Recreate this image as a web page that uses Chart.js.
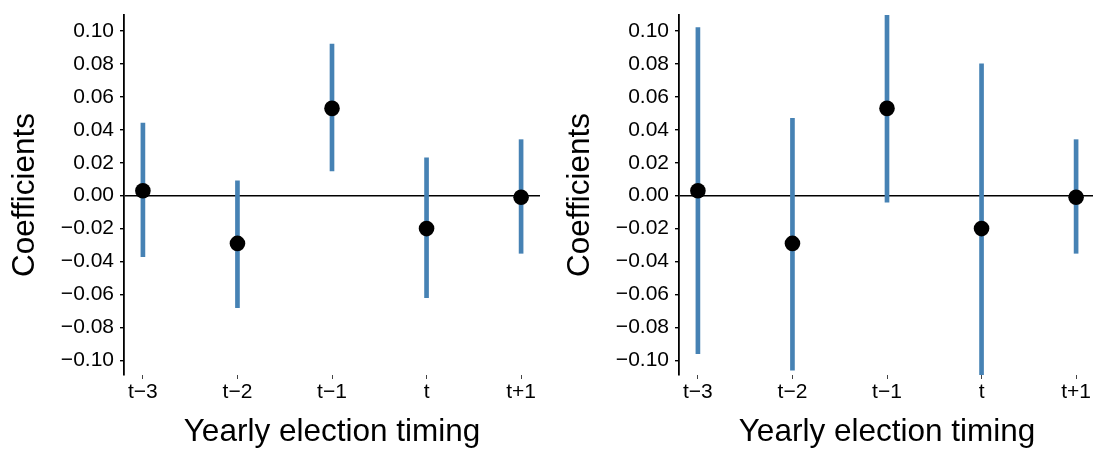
<!DOCTYPE html>
<html>
<head>
<meta charset="utf-8">
<script src="https://cdn.jsdelivr.net/npm/chart.js@4/dist/chart.umd.min.js"></script>
<style>
  html, body { margin: 0; padding: 0; background: #fff; overflow: hidden; }
  body { width: 1093px; height: 451px; position: relative; }
  .panel { position: absolute; top: 0; width: 555px; height: 451px; }
</style>
</head>
<body>
<div class="panel" style="left:0px"><canvas id="left" width="555" height="451"></canvas></div>
<div class="panel" style="left:555px"><canvas id="right" width="555" height="451"></canvas></div>
<script>
// ---- data ----
const categories = ['t\u22123', 't\u22122', 't\u22121', 't', 't+1'];
const yTickValues = [-0.10, -0.08, -0.06, -0.04, -0.02, 0.00, 0.02, 0.04, 0.06, 0.08, 0.10];
const yTickLabels = ['\u22120.10', '\u22120.08', '\u22120.06', '\u22120.04', '\u22120.02', '0.00', '0.02', '0.04', '0.06', '0.08', '0.10'];

const leftEstimate = [0.003, -0.029, 0.053, -0.020, -0.001];
const leftLower    = [-0.037, -0.068, 0.015, -0.062, -0.035];
const leftUpper    = [0.044, 0.009, 0.092, 0.023, 0.034];

const rightEstimate = [0.003, -0.029, 0.053, -0.020, -0.001];
const rightLower    = [-0.096, -0.106, -0.004, -0.112, -0.035];
const rightUpper    = [0.102, 0.047, 0.112, 0.080, 0.034];

const xTitle = 'Yearly election timing';
const yTitle = 'Coefficients';

// ---- chart ----
const FONT = "'Liberation Sans', Arial, Helvetica, sans-serif";

function makeChart(id, est, lo, hi) {
  const ctx = document.getElementById(id);
  return new Chart(ctx, {
    type: 'bar',
    data: {
      datasets: [
        {
          type: 'scatter',
          data: est.map((v, i) => ({ x: i, y: v })),
          backgroundColor: '#000',
          borderColor: '#000',
          borderWidth: 0,
          pointRadius: 7.8,
          pointHoverRadius: 7.8,
          order: 0
        },
        {
          type: 'bar',
          data: lo.map((v, i) => ({ x: i, y: [v, hi[i]] })),
          backgroundColor: '#4682B4',
          borderWidth: 0,
          barThickness: 4,
          order: 1
        }
      ]
    },
    options: {
      responsive: false,
      animation: false,
      devicePixelRatio: 1,
      layout: { padding: { left: 0, right: 15, top: 15, bottom: 0 } },
      plugins: { legend: { display: false }, tooltip: { enabled: false } },
      scales: {
        x: {
          type: 'linear',
          min: -0.2,
          max: 4.2,
          offset: false,
          border: { display: false },
          grid: {
            display: true,
            offset: false,
            drawOnChartArea: false,
            drawTicks: true,
            tickLength: 4,
            tickColor: '#444',
            tickWidth: 1
          },
          ticks: {
            color: '#000',
            font: { family: FONT, size: 21 },
            padding: 1,
            maxRotation: 0,
            autoSkip: false,
            callback: (v, i) => categories[i]
          },
          afterBuildTicks: (scale) => { scale.ticks = categories.map((c, i) => ({ value: i })); },
          afterFit: (scale) => {
            scale.height = 76;
            scale.paddingLeft = 0;
            scale.paddingRight = 0;
          },
          title: {
            display: true,
            text: xTitle,
            color: '#000',
            font: { family: FONT, size: 31.5, lineHeight: 1.2 },
            padding: { top: 0, bottom: 0 }
          }
        },
        y: {
          type: 'linear',
          min: -0.1089,
          max: 0.1097,
          border: { display: true, color: '#000', width: 1.8 },
          grid: {
            display: true,
            drawOnChartArea: true,
            drawTicks: true,
            tickLength: 4,
            color: (c) => (c.tick && c.tick.value === 0 ? '#000' : 'rgba(0,0,0,0)'),
            lineWidth: 1.4,
            tickColor: '#000',
            tickWidth: 1.4
          },
          ticks: {
            color: '#000',
            font: { family: FONT, size: 21 },
            padding: 6,
            autoSkip: false,
            callback: (v, i) => yTickLabels[i]
          },
          afterBuildTicks: (scale) => { scale.ticks = yTickValues.map(v => ({ value: v })); },
          afterFit: (scale) => {
            scale.width = 124;
            scale.paddingTop = 0;
            scale.paddingBottom = 0;
          },
          title: {
            display: true,
            text: yTitle,
            color: '#000',
            font: { family: FONT, size: 31.5, lineHeight: 1.2 },
            padding: { top: 6, bottom: 0 }
          }
        }
      }
    }
  });
}

makeChart('left', leftEstimate, leftLower, leftUpper);
makeChart('right', rightEstimate, rightLower, rightUpper);
</script>
</body>
</html>
